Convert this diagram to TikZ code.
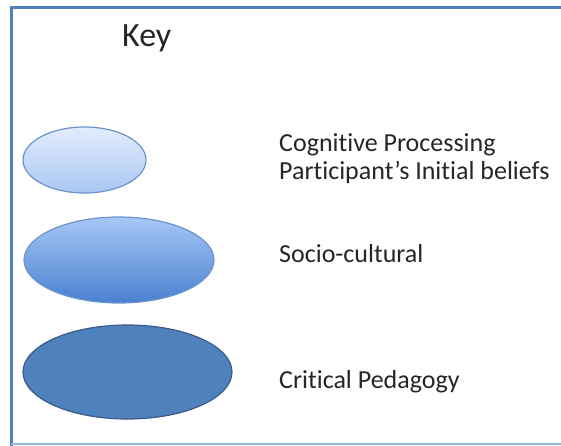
\documentclass[tikz,border=0pt]{standalone}
\usepackage{fontspec}
\setmainfont{Carlito}[Ligatures=NoCommon]
\usetikzlibrary{shapes.geometric}
\newcommand\myti{t\kern0pt i}
\definecolor{frameblue}{HTML}{4F81BD}
\definecolor{framelight}{HTML}{95B3D7}
\definecolor{eoneTop}{HTML}{E2ECFC}
\definecolor{eoneBot}{HTML}{A9C7F3}
\definecolor{etwoTop}{HTML}{A7C7F5}
\definecolor{etwoBot}{HTML}{4A80D0}
\definecolor{ethree}{HTML}{4F81BD}
\definecolor{edge}{HTML}{6A95CB}
\definecolor{edgedark}{HTML}{385D8A}
\begin{document}
\begin{tikzpicture}[x=1pt,y=-1pt,
  keytext/.style={anchor=base west,font=\fontsize{26}{30}\selectfont,text=black!85,inner sep=0pt},
  blob/.style={ellipse,inner sep=0pt,line width=1.2pt}]
\useasboundingbox (0,0) rectangle (561,446);
\fill[white] (0,0) rectangle (561,446);
% frame
\draw[frameblue,line width=3pt] (11,446) -- (11,7.5) -- (562,7.5);
\draw[framelight,line width=1.5pt] (11,444) -- (562,444);
% ellipses
\node[blob,draw=edge,top color=eoneTop,bottom color=eoneBot,minimum width=123pt,minimum height=66pt] (e1) at (84.5,160) {};
\node[blob,draw=edge,top color=etwoTop,bottom color=etwoBot,minimum width=190pt,minimum height=86pt] (e2) at (119,260) {};
\node[blob,draw=edgedark,fill=ethree,minimum width=209pt,minimum height=94pt] (e3) at (127.5,372) {};
% texts
\node[keytext,font=\fontsize{34}{40}\selectfont] (key) at (122,47) {Key};
\node[keytext] (t1) at (279,152) {Cogni\myti ve Processing};
\node[keytext] (t2) at (279,180) {Par\myti cipant’s Ini\myti al beliefs};
\node[keytext] (t3) at (279,262) {Socio-cultural};
\node[keytext] (t4) at (279,388) {Cri\myti cal Pedagogy};
\end{tikzpicture}
\end{document}
